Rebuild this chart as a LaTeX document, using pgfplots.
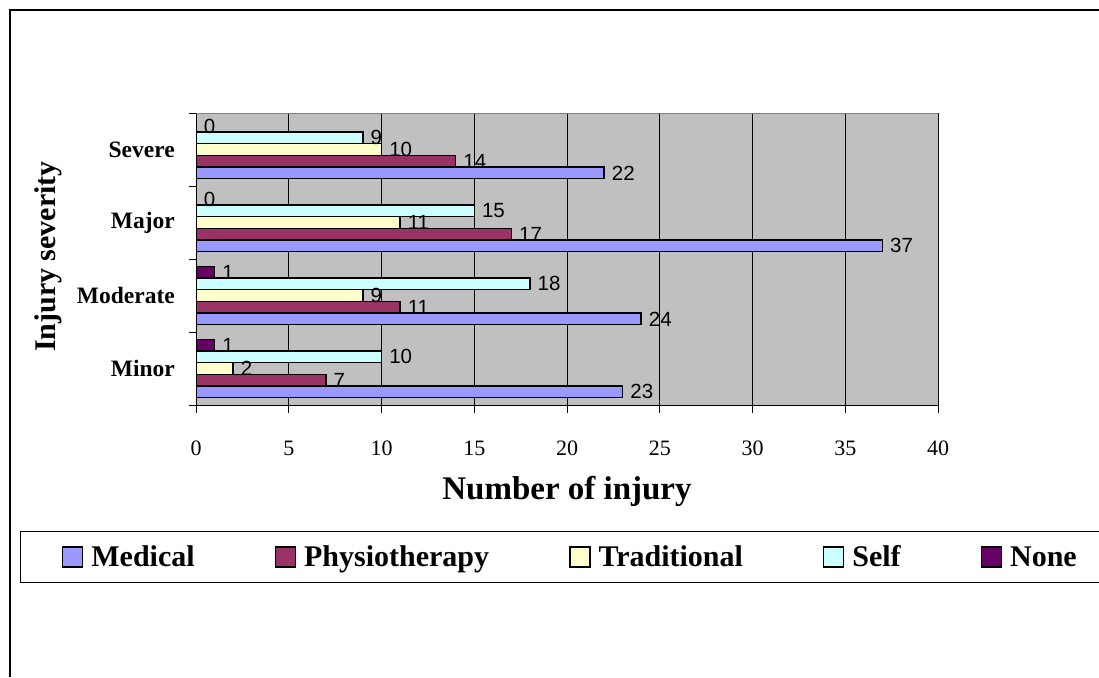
\documentclass[border=0pt]{standalone}
\usepackage{fontspec}
\setmainfont{Liberation Serif}
\newfontfamily\arial{Liberation Sans}
\usepackage{pgfplots}
\pgfplotsset{compat=1.18}
\definecolor{bgc}{HTML}{C0C0C0}
\definecolor{cmed}{HTML}{9999FF}
\definecolor{cphy}{HTML}{993366}
\definecolor{ctra}{HTML}{FFFFCC}
\definecolor{cself}{HTML}{CCFFFF}
\definecolor{cnone}{HTML}{660066}
\begin{document}
\begin{tikzpicture}
\path[use as bounding box] (0pt,0pt) rectangle (1099pt,-677pt);
\draw[line width=1.5pt] (10pt,-677pt) -- (10pt,-10pt) -- (1099pt,-10pt);
\draw[line width=1pt] (1099pt,-531pt) -- (20pt,-531pt) -- (20pt,-582pt) -- (1099pt,-582pt);
\begin{axis}[
  at={(196pt,-405pt)}, anchor=south west,
  scale only axis, width=742pt, height=292pt,
  xbar, bar width=0.16,
  xmin=0, xmax=40, ymin=-0.5, ymax=3.5,
  axis x line*=bottom, axis y line*=left,
  axis line style={line width=1pt, black},
  axis background/.style={fill=bgc},
  xtick={0,5,...,40},
  xmajorgrids, grid style={black, line width=0.8pt},
  ytick={-0.5,0.5,1.5,2.5,3.5}, yticklabels={},
  extra y ticks={0,1,2,3}, extra y tick labels={Minor,Moderate,Major,Severe},
  extra y tick style={major tick length=0pt},
  yticklabel style={font=\bfseries\fontsize{23.5}{23.5}\selectfont, inner sep=0pt, anchor=east, xshift=-21pt},
  tick align=outside, major tick length=7.5pt,
  tick style={black, line width=0.8pt},
  /pgf/number format/assume math mode=true,
  xticklabel style={font=\fontsize{22}{22}\selectfont, anchor=base, yshift=-43pt, inner sep=0pt},
  xlabel={Number of injury},
  xlabel style={at={(axis description cs:0.5,-0.3236)}, anchor=base, font=\bfseries\fontsize{33}{33}\selectfont},
  ylabel={Injury severity},
  ylabel style={at={(axis description cs:-0.19,0.5086)}, anchor=base, font=\bfseries\fontsize{30}{30}\selectfont},
  nodes near coords,
  nodes near coords style={font=\arial\fontsize{20.5}{20.5}\selectfont, anchor=west, inner sep=0pt, xshift=7pt, text=black, fill=none, draw=none},
  legend columns=5,
  legend image code/.code={\draw[#1, line width=1.4pt] (0pt,-10pt) rectangle (20pt,10pt);},
  legend style={draw=none, fill=none, at={(axis description cs:-0.1806,-0.5205)}, anchor=west, inner sep=0pt, outer sep=0pt,
    nodes={inner sep=0pt, font=\bfseries\fontsize{30}{30}\selectfont},
    column sep=8pt, /tikz/every even column/.append style={column sep=80pt}},
]
\addplot[fill=cmed, draw=black, line width=1.5pt, bar shift=-0.32] coordinates {(23,0) (24,1) (37,2) (22,3)};
\addplot[fill=cphy, draw=black, line width=1.5pt, bar shift=-0.16] coordinates {(7,0) (11,1) (17,2) (14,3)};
\addplot[fill=ctra, draw=black, line width=1.5pt, bar shift=0] coordinates {(2,0) (9,1) (11,2) (10,3)};
\addplot[fill=cself, draw=black, line width=1.5pt, bar shift=0.16] coordinates {(10,0) (18,1) (15,2) (9,3)};
\addplot[fill=cnone, draw=black, line width=1.5pt, bar shift=0.32] coordinates {(1,0) (1,1) (0,2) (0,3)};
\legend{Medical,Physiotherapy,Traditional,Self,None}
\draw[gray, line width=1pt] (rel axis cs:0,1) -- (rel axis cs:1,1) -- (rel axis cs:1,0);
\end{axis}
\end{tikzpicture}
\end{document}
